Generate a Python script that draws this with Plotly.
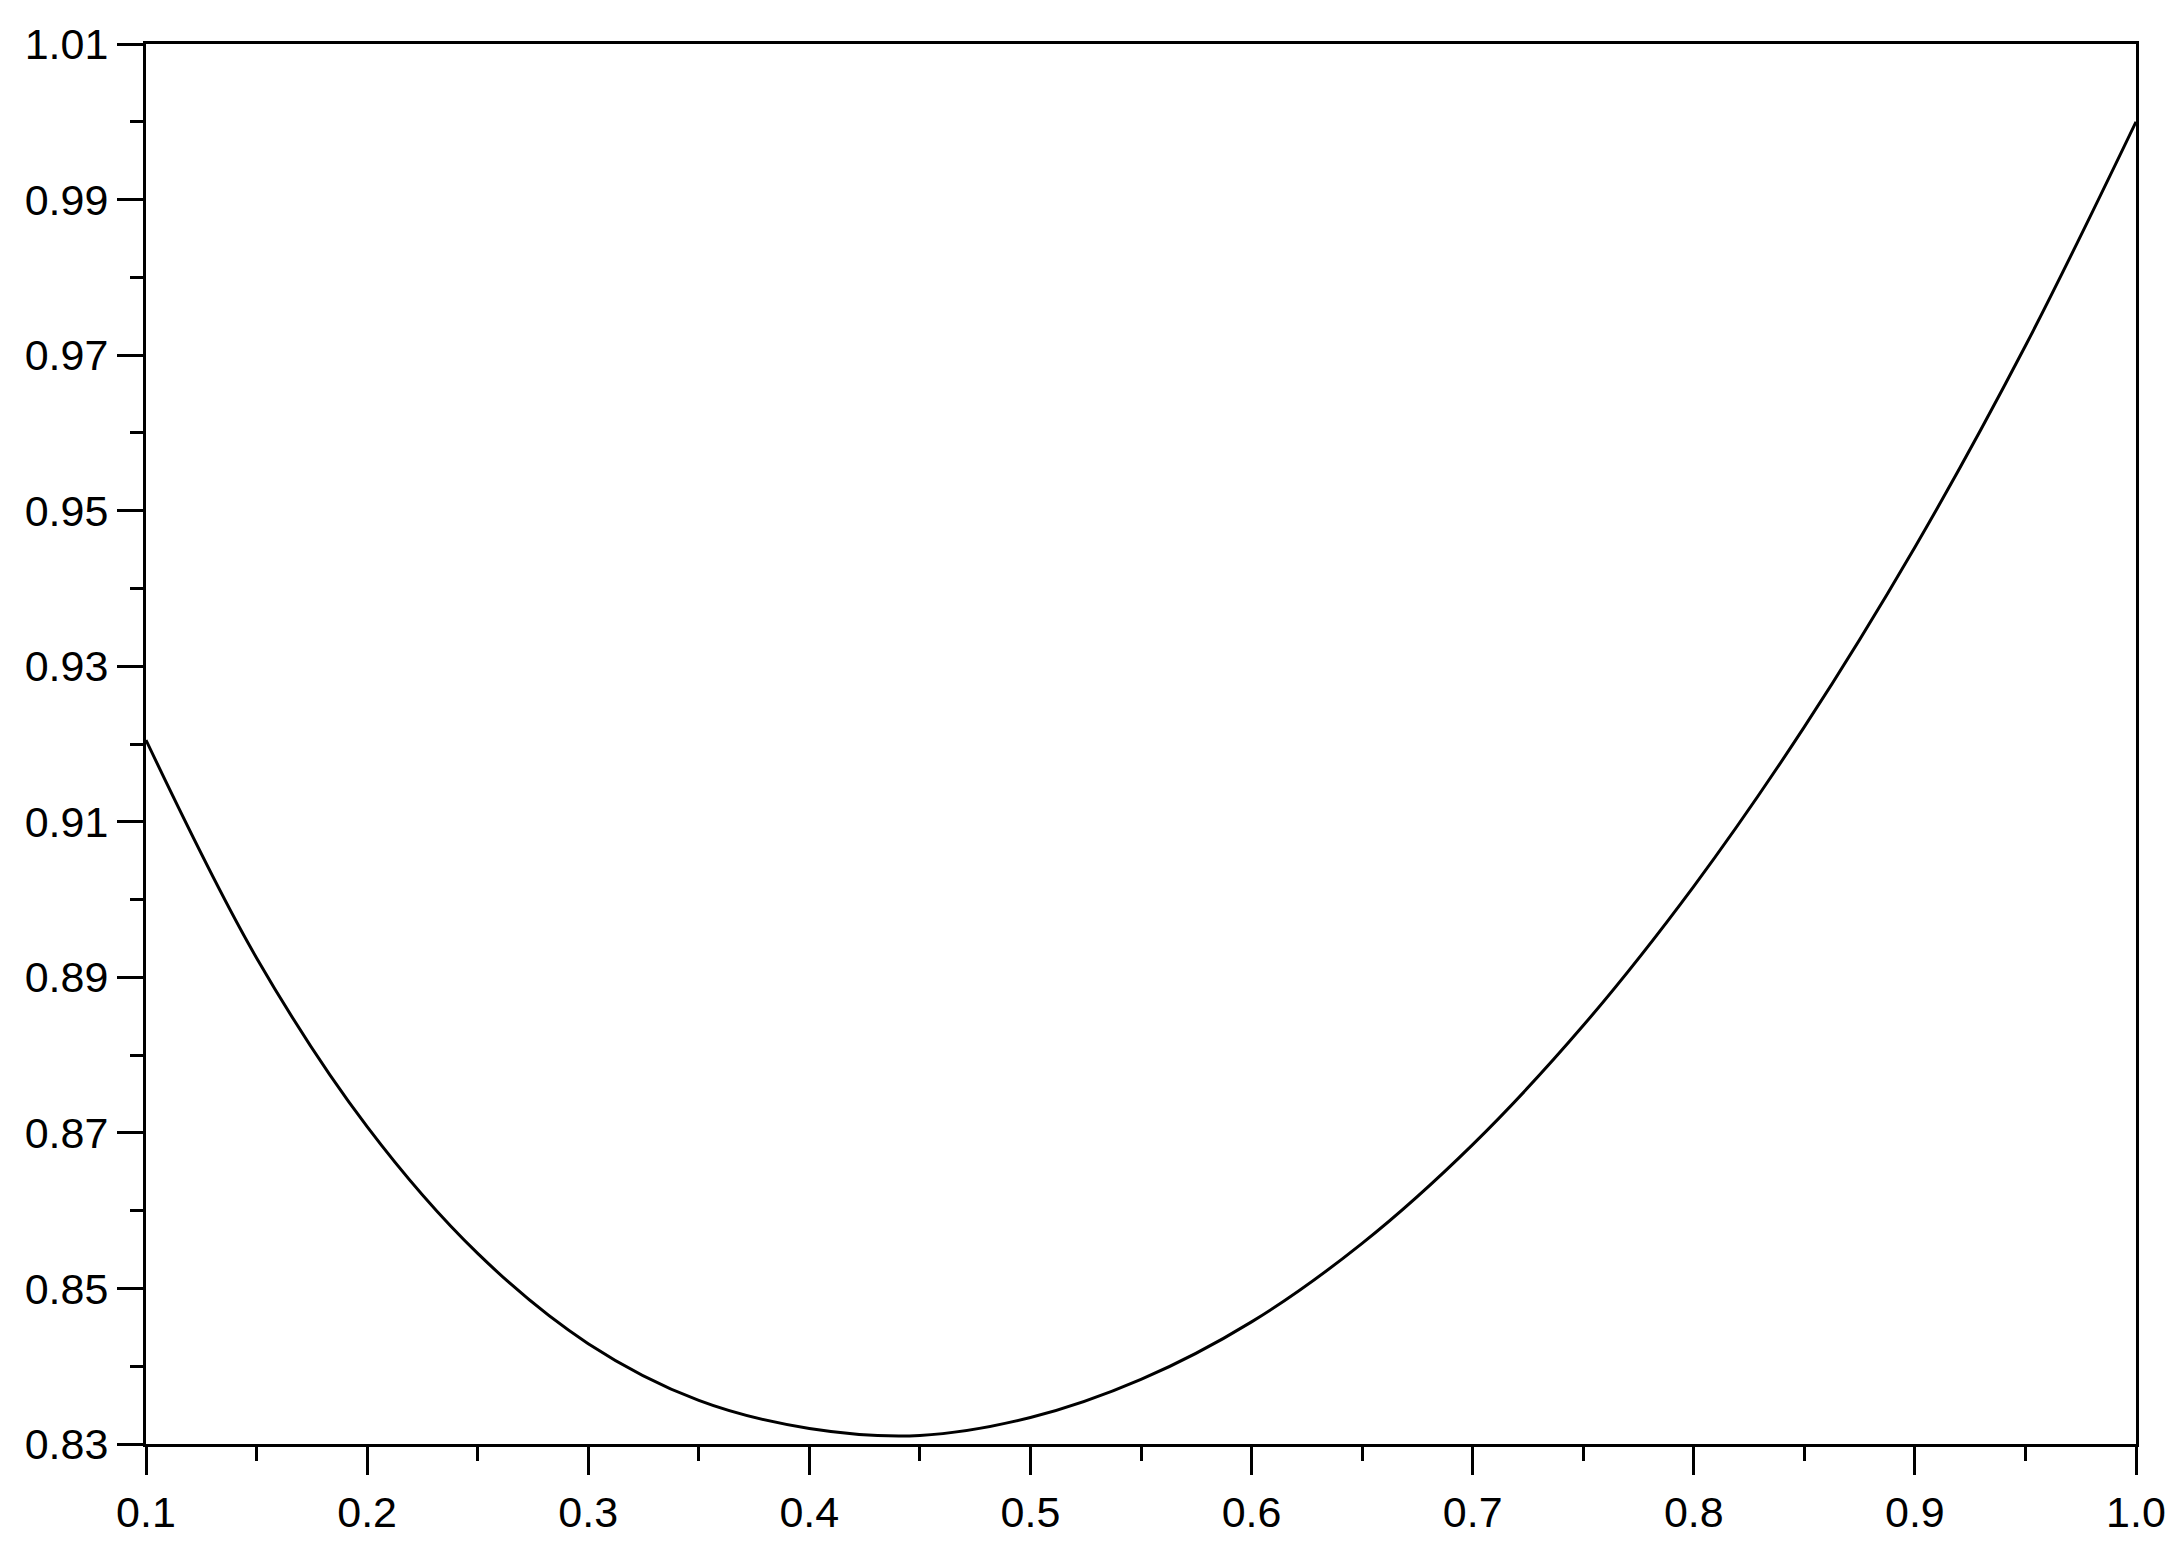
import plotly.graph_objects as go

# valeurs
x_vals = [0.10, 0.15, 0.20, 0.25, 0.30, 0.35, 0.40, 0.45, 0.50, 0.55,
          0.60, 0.65, 0.70, 0.75, 0.80, 0.85, 0.90, 0.95, 1.00]
y_vals = [0.9205, 0.8925, 0.8708, 0.8545, 0.8429, 0.8356, 0.8320, 0.8311, 0.8334, 0.8383,
          0.8457, 0.8558, 0.8685, 0.8838, 0.9017, 0.9222, 0.9453, 0.9712, 1.0000]

x_ticks = [0.1, 0.2, 0.3, 0.4, 0.5, 0.6, 0.7, 0.8, 0.9, 1.0]
x_labels = ["0.1", "0.2", "0.3", "0.4", "0.5", "0.6", "0.7", "0.8", "0.9", "1.0"]
x_minor = [0.15, 0.25, 0.35, 0.45, 0.55, 0.65, 0.75, 0.85, 0.95]
y_ticks = [0.83, 0.85, 0.87, 0.89, 0.91, 0.93, 0.95, 0.97, 0.99, 1.01]
y_labels = ["0.83", "0.85", "0.87", "0.89", "0.91", "0.93", "0.95", "0.97", "0.99", "1.01"]
y_minor = [0.84, 0.86, 0.88, 0.90, 0.92, 0.94, 0.96, 0.98, 1.00]

fig = go.Figure()
fig.add_trace(go.Scatter(x=x_vals, y=y_vals, mode="lines",
                         line=dict(color="black", width=3, shape="spline"),
                         showlegend=False, hoverinfo="skip"))

axis_style = dict(showgrid=False, zeroline=False, showline=True, mirror=True,
                  linecolor="black", linewidth=3, ticks="outside", tickcolor="black",
                  tickwidth=3, tickfont=dict(family="Liberation Sans, Arial", size=43, color="black"))

fig.update_xaxes(range=[0.1, 1.0], tickmode="array", tickvals=x_ticks, ticktext=x_labels,
                 ticklen=28,
                 minor=dict(tickmode="array", tickvals=x_minor, ticklen=14, tickwidth=3,
                            tickcolor="black", ticks="outside", showgrid=False),
                 **axis_style)
fig.update_yaxes(range=[0.83, 1.01], tickmode="array", tickvals=y_ticks, ticktext=y_labels,
                 ticklen=26,
                 minor=dict(tickmode="array", tickvals=y_minor, ticklen=13, tickwidth=3,
                            tickcolor="black", ticks="outside", showgrid=False),
                 **axis_style)

# marges corrigées de la marge de 8px du body
fig.update_layout(width=2183, height=1542, plot_bgcolor="white", paper_bgcolor="white",
                  margin=dict(l=138, r=55, t=30, b=106))

fig.write_html("out.html")
